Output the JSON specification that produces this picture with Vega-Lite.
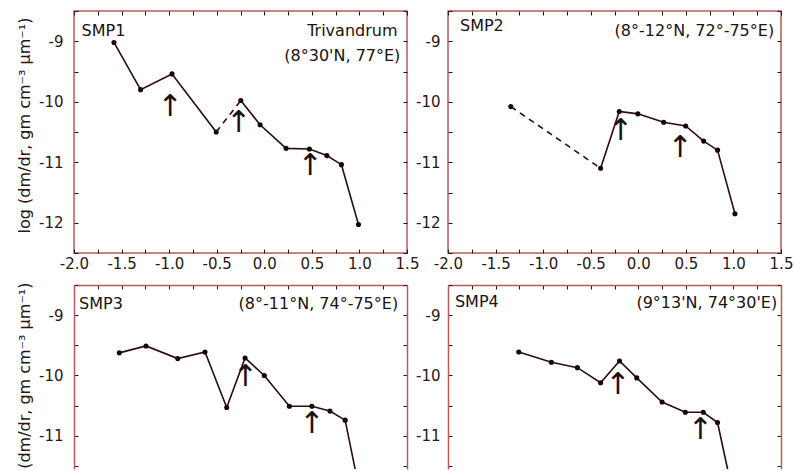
{
  "$schema": "https://vega.github.io/schema/vega-lite/v6.json",
  "padding": {"left": 15, "top": 3, "right": 5, "bottom": 0},
  "config": {
    "font": "DejaVu Sans",
    "view": {"stroke": "#b85a5a", "strokeWidth": 1.5},
    "axis": {"grid": false, "domain": false, "tickColor": "#2a1515", "tickSize": -4, "tickWidth": 1, "labelColor": "#2a1515", "labelFont": "DejaVu Sans", "labelFontSize": 15, "labelFlush": false, "labelOverlap": false, "titleFont": "DejaVu Sans", "titleFontSize": 16, "titleFontWeight": "normal", "titleColor": "#2a1515", "domainColor": "#b85a5a", "domainWidth": 1.5},
    "text": {"font": "DejaVu Sans", "fontSize": 16, "color": "#201010"}
  },
  "datasets": {
    "pts": [
      {"panel": "SMP1", "seg": "a", "r": -1.58, "v": -9.02},
      {"panel": "SMP1", "seg": "a", "r": -1.30, "v": -9.80},
      {"panel": "SMP1", "seg": "a", "r": -0.97, "v": -9.54},
      {"panel": "SMP1", "seg": "a", "r": -0.505, "v": -10.50},
      {"panel": "SMP1", "seg": "b", "r": -0.247, "v": -9.98},
      {"panel": "SMP1", "seg": "b", "r": -0.044, "v": -10.38},
      {"panel": "SMP1", "seg": "b", "r": 0.229, "v": -10.77},
      {"panel": "SMP1", "seg": "b", "r": 0.474, "v": -10.78},
      {"panel": "SMP1", "seg": "b", "r": 0.657, "v": -10.89},
      {"panel": "SMP1", "seg": "b", "r": 0.811, "v": -11.04},
      {"panel": "SMP1", "seg": "b", "r": 0.99, "v": -12.03},
      {"panel": "SMP2", "seg": "a", "r": -1.34, "v": -10.08},
      {"panel": "SMP2", "seg": "b", "r": -0.396, "v": -11.10},
      {"panel": "SMP2", "seg": "b", "r": -0.20, "v": -10.16},
      {"panel": "SMP2", "seg": "b", "r": -0.005, "v": -10.20},
      {"panel": "SMP2", "seg": "b", "r": 0.267, "v": -10.34},
      {"panel": "SMP2", "seg": "b", "r": 0.498, "v": -10.40},
      {"panel": "SMP2", "seg": "b", "r": 0.687, "v": -10.65},
      {"panel": "SMP2", "seg": "b", "r": 0.833, "v": -10.80},
      {"panel": "SMP2", "seg": "b", "r": 1.016, "v": -11.85},
      {"panel": "SMP3", "seg": "a", "r": -1.524, "v": -9.625},
      {"panel": "SMP3", "seg": "a", "r": -1.243, "v": -9.51},
      {"panel": "SMP3", "seg": "a", "r": -0.91, "v": -9.72},
      {"panel": "SMP3", "seg": "a", "r": -0.623, "v": -9.61},
      {"panel": "SMP3", "seg": "a", "r": -0.395, "v": -10.53},
      {"panel": "SMP3", "seg": "a", "r": -0.202, "v": -9.71},
      {"panel": "SMP3", "seg": "a", "r": 0.0, "v": -10.0},
      {"panel": "SMP3", "seg": "a", "r": 0.264, "v": -10.51},
      {"panel": "SMP3", "seg": "a", "r": 0.50, "v": -10.51},
      {"panel": "SMP3", "seg": "a", "r": 0.69, "v": -10.59},
      {"panel": "SMP3", "seg": "a", "r": 0.85, "v": -10.74},
      {"panel": "SMP3", "seg": "a", "r": 1.0, "v": -11.9},
      {"panel": "SMP4", "seg": "a", "r": -1.256, "v": -9.61},
      {"panel": "SMP4", "seg": "a", "r": -0.913, "v": -9.78},
      {"panel": "SMP4", "seg": "a", "r": -0.64, "v": -9.87},
      {"panel": "SMP4", "seg": "a", "r": -0.396, "v": -10.12},
      {"panel": "SMP4", "seg": "a", "r": -0.197, "v": -9.76},
      {"panel": "SMP4", "seg": "a", "r": -0.016, "v": -10.04},
      {"panel": "SMP4", "seg": "a", "r": 0.25, "v": -10.44},
      {"panel": "SMP4", "seg": "a", "r": 0.495, "v": -10.61},
      {"panel": "SMP4", "seg": "a", "r": 0.683, "v": -10.61},
      {"panel": "SMP4", "seg": "a", "r": 0.833, "v": -10.78},
      {"panel": "SMP4", "seg": "a", "r": 1.0, "v": -12.0}
    ],
    "links": [
      {"panel": "SMP1", "r": -0.505, "v": -10.50},
      {"panel": "SMP1", "r": -0.247, "v": -9.98},
      {"panel": "SMP2", "r": -1.34, "v": -10.08},
      {"panel": "SMP2", "r": -0.396, "v": -11.10}
    ],
    "arrows": [
      {"panel": "SMP1", "r": -0.99, "v": -10.08},
      {"panel": "SMP1", "r": -0.27, "v": -10.35},
      {"panel": "SMP1", "r": 0.48, "v": -11.07},
      {"panel": "SMP2", "r": -0.186, "v": -10.49},
      {"panel": "SMP2", "r": 0.44, "v": -10.77},
      {"panel": "SMP3", "r": -0.20, "v": -10.02},
      {"panel": "SMP3", "r": 0.50, "v": -10.80},
      {"panel": "SMP4", "r": -0.215, "v": -10.16},
      {"panel": "SMP4", "r": 0.652, "v": -10.91}
    ]
  },
  "bounds": "flush",
  "columns": 2,
  "spacing": {"row": 32, "column": 41},
  "concat": [
    {
      "width": 333, "height": 242,
      "layer": [
        {"data": {"name": "pts"}, "transform": [{"filter": "datum.panel === 'SMP1'"}],
         "mark": {"type": "line", "color": "#2a0d0d", "strokeWidth": 1.6, "clip": true},
         "encoding": {
           "x": {"field": "r", "type": "quantitative", "scale": {"domain": [-2, 1.5], "nice": false, "zero": false},
                 "axis": {"orient": "bottom", "values": [-2,-1.75,-1.5,-1.25,-1,-0.75,-0.5,-0.25,0,0.25,0.5,0.75,1,1.25,1.5], "labelExpr": "datum.value % 0.5 === 0 ? replace(format(datum.value, '.1f'), '\u2212', '-') : ''", "labelPadding": 7, "title": null}},
           "y": {"field": "v", "type": "quantitative", "scale": {"domain": [-12.5, -8.5], "nice": false, "zero": false},
                 "axis": {"orient": "left", "values": [-12.5,-12,-11.5,-11,-10.5,-10,-9.5,-9,-8.5], "labelExpr": "datum.value % 1 === 0 ? replace(format(datum.value, 'd'), '\u2212', '-') : ''", "labelPadding": 15, "title": "log (dm/dr, gm cm\u207b\u00b3 \u00b5m\u207b\u00b9)", "titlePadding": 6, "titleY": 114}},
           "detail": {"field": "seg"}
         }},
        {"data": {"name": "pts"}, "transform": [{"filter": "datum.panel === 'SMP1'"}],
         "mark": {"type": "point", "filled": true, "color": "#1a0505", "size": 26, "opacity": 1, "clip": true},
         "encoding": {"x": {"field": "r", "type": "quantitative", "axis": null}, "y": {"field": "v", "type": "quantitative", "axis": null}}},
        {"data": {"name": "links"}, "transform": [{"filter": "datum.panel === 'SMP1'"}],
         "mark": {"type": "line", "color": "#2a0d0d", "strokeWidth": 1.6, "strokeDash": [6, 5], "clip": true},
         "encoding": {"x": {"field": "r", "type": "quantitative", "axis": null}, "y": {"field": "v", "type": "quantitative", "axis": null}}},
        {"data": {"name": "arrows"}, "transform": [{"filter": "datum.panel === 'SMP1'"}],
         "mark": {"type": "text", "text": "\u2191", "fontSize": 30, "baseline": "middle", "align": "center"},
         "encoding": {"x": {"field": "r", "type": "quantitative", "axis": null}, "y": {"field": "v", "type": "quantitative", "axis": null}}},
        {"data": {"values": [{}]}, "mark": {"type": "text", "text": "SMP1", "align": "left", "baseline": "alphabetic"},
         "encoding": {"x": {"datum": -1.92, "type": "quantitative", "axis": null}, "y": {"datum": -8.905, "type": "quantitative", "axis": null}}},
        {"data": {"values": [{}]}, "mark": {"type": "text", "text": "Trivandrum", "align": "right", "baseline": "alphabetic"},
         "encoding": {"x": {"datum": 1.40, "type": "quantitative", "axis": null}, "y": {"datum": -8.917, "type": "quantitative", "axis": null}}},
        {"data": {"values": [{}]}, "mark": {"type": "text", "text": "(8\u00b030'N, 77\u00b0E)", "align": "right", "baseline": "alphabetic"},
         "encoding": {"x": {"datum": 1.43, "type": "quantitative", "axis": null}, "y": {"datum": -9.32, "type": "quantitative", "axis": null}}},
        {"data": {"name": "pts"}, "transform": [{"filter": "datum.panel === 'SMP1'"}],
         "mark": {"type": "point", "opacity": 0},
         "encoding": {
           "x": {"field": "r", "type": "quantitative", "axis": {"orient": "top", "values": [-2,-1.75,-1.5,-1.25,-1,-0.75,-0.5,-0.25,0,0.25,0.5,0.75,1,1.25,1.5], "labels": false, "title": null}},
           "y": {"field": "v", "type": "quantitative", "axis": {"orient": "right", "values": [-12.5,-12,-11.5,-11,-10.5,-10,-9.5,-9,-8.5], "labels": false, "title": null}}
         }}
      ],
      "resolve": {"axis": {"x": "independent", "y": "independent"}}
    },
    {
      "width": 333, "height": 242,
      "layer": [
        {"data": {"name": "pts"}, "transform": [{"filter": "datum.panel === 'SMP2'"}],
         "mark": {"type": "line", "color": "#2a0d0d", "strokeWidth": 1.6, "clip": true},
         "encoding": {
           "x": {"field": "r", "type": "quantitative", "scale": {"domain": [-2, 1.5], "nice": false, "zero": false},
                 "axis": {"orient": "bottom", "values": [-2,-1.75,-1.5,-1.25,-1,-0.75,-0.5,-0.25,0,0.25,0.5,0.75,1,1.25,1.5], "labelExpr": "datum.value % 0.5 === 0 ? replace(format(datum.value, '.1f'), '\u2212', '-') : ''", "labelPadding": 7, "title": null}},
           "y": {"field": "v", "type": "quantitative", "scale": {"domain": [-12.5, -8.5], "nice": false, "zero": false},
                 "axis": {"orient": "left", "values": [-12.5,-12,-11.5,-11,-10.5,-10,-9.5,-9,-8.5], "labelExpr": "datum.value % 1 === 0 ? replace(format(datum.value, 'd'), '\u2212', '-') : ''", "labelPadding": 12, "title": null}},
           "detail": {"field": "seg"}
         }},
        {"data": {"name": "pts"}, "transform": [{"filter": "datum.panel === 'SMP2'"}],
         "mark": {"type": "point", "filled": true, "color": "#1a0505", "size": 26, "opacity": 1, "clip": true},
         "encoding": {"x": {"field": "r", "type": "quantitative", "axis": null}, "y": {"field": "v", "type": "quantitative", "axis": null}}},
        {"data": {"name": "links"}, "transform": [{"filter": "datum.panel === 'SMP2'"}],
         "mark": {"type": "line", "color": "#2a0d0d", "strokeWidth": 1.6, "strokeDash": [6, 5], "clip": true},
         "encoding": {"x": {"field": "r", "type": "quantitative", "axis": null}, "y": {"field": "v", "type": "quantitative", "axis": null}}},
        {"data": {"name": "arrows"}, "transform": [{"filter": "datum.panel === 'SMP2'"}],
         "mark": {"type": "text", "text": "\u2191", "fontSize": 30, "baseline": "middle", "align": "center"},
         "encoding": {"x": {"field": "r", "type": "quantitative", "axis": null}, "y": {"field": "v", "type": "quantitative", "axis": null}}},
        {"data": {"values": [{}]}, "mark": {"type": "text", "text": "SMP2", "align": "left", "baseline": "alphabetic"},
         "encoding": {"x": {"datum": -1.874, "type": "quantitative", "axis": null}, "y": {"datum": -8.83, "type": "quantitative", "axis": null}}},
        {"data": {"values": [{}]}, "mark": {"type": "text", "text": "(8\u00b0-12\u00b0N, 72\u00b0-75\u00b0E)", "align": "right", "baseline": "alphabetic"},
         "encoding": {"x": {"datum": 1.428, "type": "quantitative", "axis": null}, "y": {"datum": -8.917, "type": "quantitative", "axis": null}}},
        {"data": {"name": "pts"}, "transform": [{"filter": "datum.panel === 'SMP2'"}],
         "mark": {"type": "point", "opacity": 0},
         "encoding": {
           "x": {"field": "r", "type": "quantitative", "axis": {"orient": "top", "values": [-2,-1.75,-1.5,-1.25,-1,-0.75,-0.5,-0.25,0,0.25,0.5,0.75,1,1.25,1.5], "labels": false, "title": null}},
           "y": {"field": "v", "type": "quantitative", "axis": {"orient": "right", "values": [-12.5,-12,-11.5,-11,-10.5,-10,-9.5,-9,-8.5], "labels": false, "title": null}}
         }}
      ],
      "resolve": {"axis": {"x": "independent", "y": "independent"}}
    },
    {
      "width": 333, "height": 184,
      "view": {"stroke": null},
      "layer": [
        {"data": {"name": "pts"}, "transform": [{"filter": "datum.panel === 'SMP3'"}],
         "mark": {"type": "line", "color": "#2a0d0d", "strokeWidth": 1.6, "clip": true},
         "encoding": {
           "x": {"field": "r", "type": "quantitative", "scale": {"domain": [-2, 1.5], "nice": false, "zero": false}, "axis": null},
           "y": {"field": "v", "type": "quantitative", "scale": {"domain": [-11.55, -8.5], "nice": false, "zero": false},
                 "axis": {"orient": "left", "domain": true, "values": [-11.5,-11,-10.5,-10,-9.5,-9,-8.5], "labelExpr": "datum.value % 1 === 0 ? replace(format(datum.value, 'd'), '\u2212', '-') : ''", "labelPadding": 15, "title": "(dm/dr, gm cm\u207b\u00b3 \u00b5m\u207b\u00b9)", "titleAnchor": "end", "titlePadding": 6, "titleY": -3}},
           "detail": {"field": "seg"}
         }},
        {"data": {"name": "pts"}, "transform": [{"filter": "datum.panel === 'SMP3'"}],
         "mark": {"type": "point", "filled": true, "color": "#1a0505", "size": 26, "opacity": 1, "clip": true},
         "encoding": {"x": {"field": "r", "type": "quantitative", "axis": null}, "y": {"field": "v", "type": "quantitative", "axis": null}}},
        {"data": {"name": "arrows"}, "transform": [{"filter": "datum.panel === 'SMP3'"}],
         "mark": {"type": "text", "text": "\u2191", "fontSize": 30, "baseline": "middle", "align": "center"},
         "encoding": {"x": {"field": "r", "type": "quantitative", "axis": null}, "y": {"field": "v", "type": "quantitative", "axis": null}}},
        {"data": {"values": [{}]}, "mark": {"type": "text", "text": "SMP3", "align": "left", "baseline": "alphabetic"},
         "encoding": {"x": {"datum": -1.947, "type": "quantitative", "axis": null}, "y": {"datum": -8.905, "type": "quantitative", "axis": null}}},
        {"data": {"values": [{}]}, "mark": {"type": "text", "text": "(8\u00b0-11\u00b0N, 74\u00b0-75\u00b0E)", "align": "right", "baseline": "alphabetic"},
         "encoding": {"x": {"datum": 1.407, "type": "quantitative", "axis": null}, "y": {"datum": -8.905, "type": "quantitative", "axis": null}}},
        {"data": {"name": "pts"}, "transform": [{"filter": "datum.panel === 'SMP3'"}],
         "mark": {"type": "point", "opacity": 0, "clip": true},
         "encoding": {
           "x": {"field": "r", "type": "quantitative", "axis": {"orient": "top", "domain": true, "values": [-2,-1.75,-1.5,-1.25,-1,-0.75,-0.5,-0.25,0,0.25,0.5,0.75,1,1.25,1.5], "labels": false, "title": null}},
           "y": {"field": "v", "type": "quantitative", "axis": {"orient": "right", "domain": true, "values": [-11.5,-11,-10.5,-10,-9.5,-9,-8.5], "labels": false, "title": null}}
         }}
      ],
      "resolve": {"axis": {"x": "independent", "y": "independent"}}
    },
    {
      "width": 333, "height": 184,
      "view": {"stroke": null},
      "layer": [
        {"data": {"name": "pts"}, "transform": [{"filter": "datum.panel === 'SMP4'"}],
         "mark": {"type": "line", "color": "#2a0d0d", "strokeWidth": 1.6, "clip": true},
         "encoding": {
           "x": {"field": "r", "type": "quantitative", "scale": {"domain": [-2, 1.5], "nice": false, "zero": false}, "axis": null},
           "y": {"field": "v", "type": "quantitative", "scale": {"domain": [-11.55, -8.5], "nice": false, "zero": false},
                 "axis": {"orient": "left", "domain": true, "values": [-11.5,-11,-10.5,-10,-9.5,-9,-8.5], "labelExpr": "datum.value % 1 === 0 ? replace(format(datum.value, 'd'), '\u2212', '-') : ''", "labelPadding": 12, "title": null}},
           "detail": {"field": "seg"}
         }},
        {"data": {"name": "pts"}, "transform": [{"filter": "datum.panel === 'SMP4'"}],
         "mark": {"type": "point", "filled": true, "color": "#1a0505", "size": 26, "opacity": 1, "clip": true},
         "encoding": {"x": {"field": "r", "type": "quantitative", "axis": null}, "y": {"field": "v", "type": "quantitative", "axis": null}}},
        {"data": {"name": "arrows"}, "transform": [{"filter": "datum.panel === 'SMP4'"}],
         "mark": {"type": "text", "text": "\u2191", "fontSize": 30, "baseline": "middle", "align": "center"},
         "encoding": {"x": {"field": "r", "type": "quantitative", "axis": null}, "y": {"field": "v", "type": "quantitative", "axis": null}}},
        {"data": {"values": [{}]}, "mark": {"type": "text", "text": "SMP4", "align": "left", "baseline": "alphabetic"},
         "encoding": {"x": {"datum": -1.927, "type": "quantitative", "axis": null}, "y": {"datum": -8.86, "type": "quantitative", "axis": null}}},
        {"data": {"values": [{}]}, "mark": {"type": "text", "text": "(9\u00b013'N, 74\u00b030'E)", "align": "right", "baseline": "alphabetic"},
         "encoding": {"x": {"datum": 1.46, "type": "quantitative", "axis": null}, "y": {"datum": -8.88, "type": "quantitative", "axis": null}}},
        {"data": {"name": "pts"}, "transform": [{"filter": "datum.panel === 'SMP4'"}],
         "mark": {"type": "point", "opacity": 0, "clip": true},
         "encoding": {
           "x": {"field": "r", "type": "quantitative", "axis": {"orient": "top", "domain": true, "values": [-2,-1.75,-1.5,-1.25,-1,-0.75,-0.5,-0.25,0,0.25,0.5,0.75,1,1.25,1.5], "labels": false, "title": null}},
           "y": {"field": "v", "type": "quantitative", "axis": {"orient": "right", "domain": true, "values": [-11.5,-11,-10.5,-10,-9.5,-9,-8.5], "labels": false, "title": null}}
         }}
      ],
      "resolve": {"axis": {"x": "independent", "y": "independent"}}
    }
  ]
}
